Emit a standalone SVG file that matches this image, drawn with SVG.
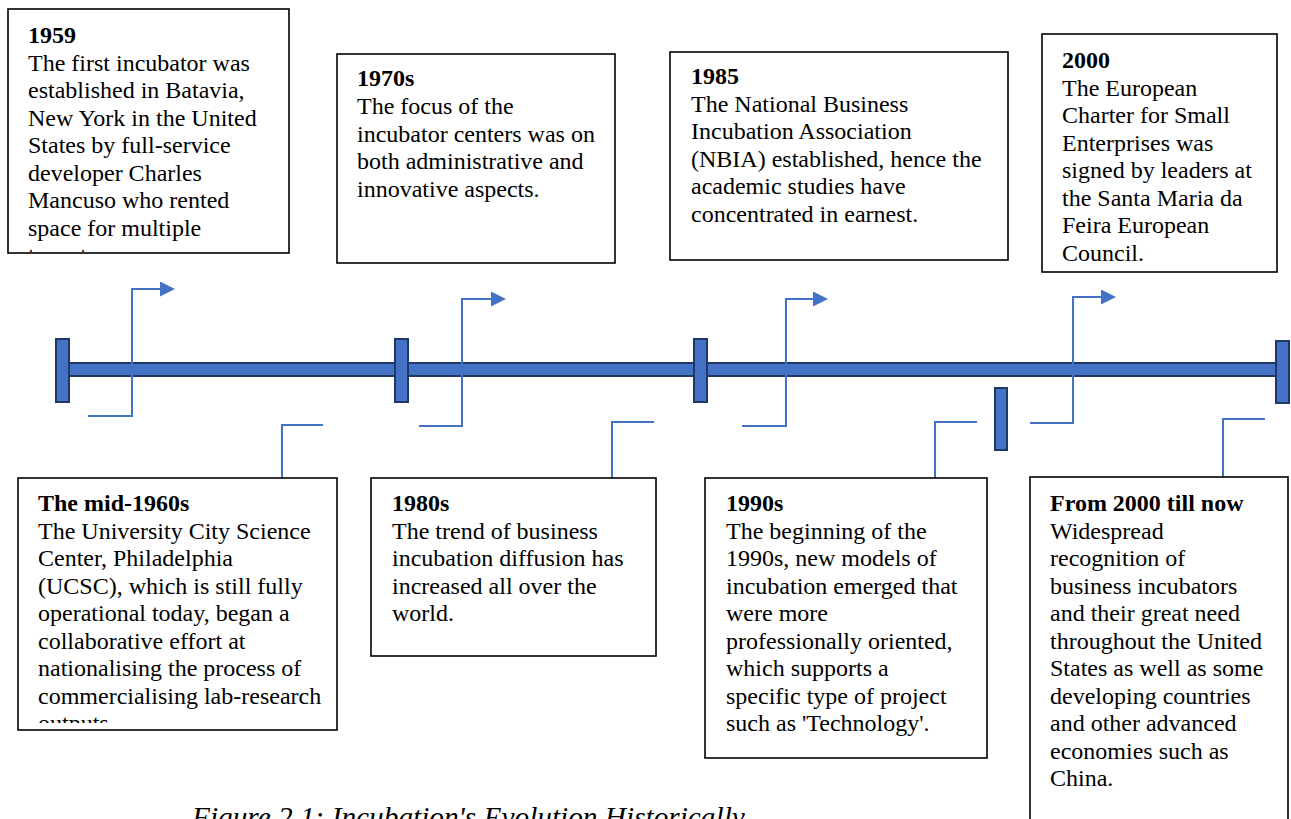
<svg xmlns="http://www.w3.org/2000/svg" width="1291" height="819" viewBox="0 0 1291 819">
  <style>
    .box { fill: #ffffff; stroke: #000000; stroke-width: 1.6; }
    .t { font-family: "Liberation Serif", "Times New Roman", serif; font-size: 24px; fill: #000000; }
    .h { font-weight: bold; }
    .bar { fill: #4472C4; stroke: #1F3864; stroke-width: 2; }
    .conn { fill: none; stroke: #4472C4; stroke-width: 2; }
    .cap { font-family: "Liberation Serif", "Times New Roman", serif; font-size: 29.3px; font-style: italic; fill: #000000; }
  </style>
  <defs>
    <marker id="head" viewBox="0 0 15 15" refX="0" refY="7.5" markerWidth="15" markerHeight="15" markerUnits="userSpaceOnUse" orient="auto">
      <path d="M0,0 L15,7.5 L0,15 Z" fill="#4472C4"/>
    </marker>
    <clipPath id="clip1959"><rect x="9" y="10" width="279" height="242"/></clipPath>
    <clipPath id="clip1960"><rect x="19" y="479" width="317" height="244"/></clipPath>
  </defs>

  <rect width="1291" height="819" fill="#ffffff"/>

  <!-- timeline bar and tick marks -->
  <g id="timeline">
    <rect class="bar" x="56" y="363" width="1226" height="13"/>
    <rect class="bar" x="56" y="339" width="13" height="63"/>
    <rect class="bar" x="395" y="339" width="13" height="63"/>
    <rect class="bar" x="694" y="339" width="13" height="63"/>
    <rect class="bar" x="1276" y="341" width="13" height="62"/>
    <rect class="bar" x="995" y="388" width="12" height="62"/>
  </g>

  <!-- connectors -->
  <g id="connectors">
    <path class="conn" d="M88,416 H132 V289 H160" marker-end="url(#head)"/>
    <path class="conn" d="M419,426 H462 V299 H491" marker-end="url(#head)"/>
    <path class="conn" d="M742,426 H786 V299 H813" marker-end="url(#head)"/>
    <path class="conn" d="M1030,423 H1073 V297 H1101" marker-end="url(#head)"/>
    <path class="conn" d="M323,425 H282 V478"/>
    <path class="conn" d="M654,422 H612 V478"/>
    <path class="conn" d="M977,422 H935 V478"/>
    <path class="conn" d="M1265,419 H1223 V477"/>
  </g>

  <!-- upper boxes -->
  <g id="n1959">
    <rect class="box" x="8" y="9" width="281" height="244"/>
    <g clip-path="url(#clip1959)">
      <text class="t h" x="28" y="43">1959</text>
      <text class="t" x="28" y="70.5">The first incubator was</text>
      <text class="t" x="28" y="98">established in Batavia,</text>
      <text class="t" x="28" y="125.5">New York in the United</text>
      <text class="t" x="28" y="153">States by full-service</text>
      <text class="t" x="28" y="180.5">developer Charles</text>
      <text class="t" x="28" y="208">Mancuso who rented</text>
      <text class="t" x="28" y="235.5">space for multiple</text>
      <text class="t" x="28" y="263">tenants.</text>
    </g>
  </g>

  <g id="n1970s">
    <rect class="box" x="337" y="54" width="278" height="209"/>
    <text class="t h" x="357" y="86">1970s</text>
    <text class="t" x="357" y="114">The focus of the</text>
    <text class="t" x="357" y="141.5">incubator centers was on</text>
    <text class="t" x="357" y="169">both administrative and</text>
    <text class="t" x="357" y="196.5">innovative aspects.</text>
  </g>

  <g id="n1985">
    <rect class="box" x="670" y="52" width="338" height="208"/>
    <text class="t h" x="691" y="84">1985</text>
    <text class="t" x="691" y="111.5">The National Business</text>
    <text class="t" x="691" y="139">Incubation Association</text>
    <text class="t" x="691" y="166.5">(NBIA) established, hence the</text>
    <text class="t" x="691" y="194">academic studies have</text>
    <text class="t" x="691" y="221.5">concentrated in earnest.</text>
  </g>

  <g id="n2000">
    <rect class="box" x="1042" y="34" width="235" height="238"/>
    <text class="t h" x="1062" y="68">2000</text>
    <text class="t" x="1062" y="95.5">The European</text>
    <text class="t" x="1062" y="123">Charter for Small</text>
    <text class="t" x="1062" y="150.5">Enterprises was</text>
    <text class="t" x="1062" y="178">signed by leaders at</text>
    <text class="t" x="1062" y="205.5">the Santa Maria da</text>
    <text class="t" x="1062" y="233">Feira European</text>
    <text class="t" x="1062" y="260.5">Council.</text>
  </g>

  <!-- lower boxes -->
  <g id="nmid1960s">
    <rect class="box" x="18" y="478" width="319" height="252"/>
    <g clip-path="url(#clip1960)">
      <text class="t h" x="38" y="511">The mid-1960s</text>
      <text class="t" x="38" y="538.5">The University City Science</text>
      <text class="t" x="38" y="566">Center, Philadelphia</text>
      <text class="t" x="38" y="593.5">(UCSC), which is still fully</text>
      <text class="t" x="38" y="621">operational today, began a</text>
      <text class="t" x="38" y="648.5">collaborative effort at</text>
      <text class="t" x="38" y="676">nationalising the process of</text>
      <text class="t" x="38" y="703.5">commercialising lab-research</text>
      <text class="t" x="38" y="731">outputs.</text>
    </g>
  </g>

  <g id="n1980s">
    <rect class="box" x="371" y="478" width="285" height="178"/>
    <text class="t h" x="392" y="511">1980s</text>
    <text class="t" x="392" y="538.5">The trend of business</text>
    <text class="t" x="392" y="566">incubation diffusion has</text>
    <text class="t" x="392" y="593.5">increased all over the</text>
    <text class="t" x="392" y="621">world.</text>
  </g>

  <g id="n1990s">
    <rect class="box" x="705" y="478" width="282" height="280"/>
    <text class="t h" x="726" y="511">1990s</text>
    <text class="t" x="726" y="538.5">The beginning of the</text>
    <text class="t" x="726" y="566">1990s, new models of</text>
    <text class="t" x="726" y="593.5">incubation emerged that</text>
    <text class="t" x="726" y="621">were more</text>
    <text class="t" x="726" y="648.5">professionally oriented,</text>
    <text class="t" x="726" y="676">which supports a</text>
    <text class="t" x="726" y="703.5">specific type of project</text>
    <text class="t" x="726" y="731">such as 'Technology'.</text>
  </g>

  <g id="n2000now">
    <rect class="box" x="1030" y="477" width="258" height="360"/>
    <text class="t h" x="1050" y="511">From 2000 till now</text>
    <text class="t" x="1050" y="538.5">Widespread</text>
    <text class="t" x="1050" y="566">recognition of</text>
    <text class="t" x="1050" y="593.5">business incubators</text>
    <text class="t" x="1050" y="621">and their great need</text>
    <text class="t" x="1050" y="648.5">throughout the United</text>
    <text class="t" x="1050" y="676">States as well as some</text>
    <text class="t" x="1050" y="703.5">developing countries</text>
    <text class="t" x="1050" y="731">and other advanced</text>
    <text class="t" x="1050" y="758.5">economies such as</text>
    <text class="t" x="1050" y="786">China.</text>
  </g>

  <!-- caption -->
  <text class="cap" x="192" y="827">Figure 2.1: Incubation's Evolution Historically</text>
</svg>
